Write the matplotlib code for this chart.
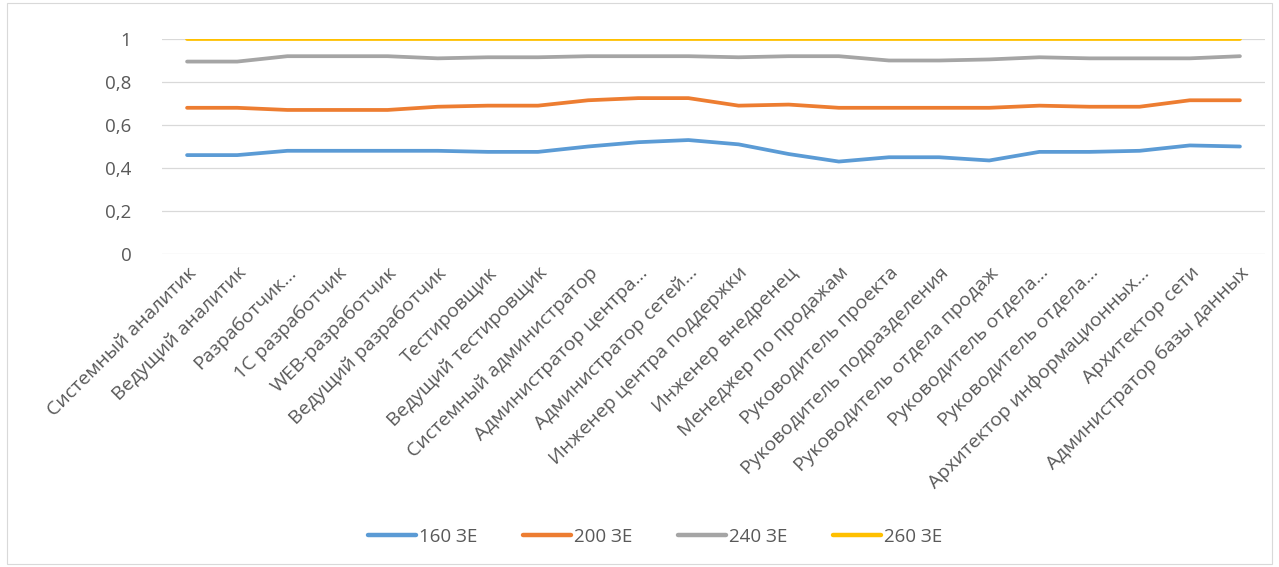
import numpy as np
import matplotlib.pyplot as plt
from matplotlib.patches import Rectangle

plt.rcParams['font.family'] = ['Open Sans', 'DejaVu Sans']

jobs = ["Системный аналитик", "Ведущий аналитик", "Разработчик...",
        "1С разработчик", "WEB-разработчик", "Ведущий разработчик",
        "Тестировщик", "Ведущий тестировщик", "Системный администратор",
        "Администратор центра...", "Администратор сетей...",
        "Инженер центра поддержки", "Инженер внедренец",
        "Менеджер по продажам", "Руководитель проекта",
        "Руководитель подразделения", "Руководитель отдела продаж",
        "Руководитель отдела...", "Руководитель отдела...",
        "Архитектор информационных...", "Архитектор сети",
        "Администратор базы данных"]

ze160 = [0.46, 0.46, 0.48, 0.48, 0.48, 0.48, 0.475, 0.475, 0.50, 0.52, 0.53,
         0.51, 0.465, 0.43, 0.45, 0.45, 0.435, 0.475, 0.475, 0.48, 0.505, 0.50]
ze200 = [0.68, 0.68, 0.67, 0.67, 0.67, 0.685, 0.69, 0.69, 0.715, 0.725, 0.725,
         0.69, 0.695, 0.68, 0.68, 0.68, 0.68, 0.69, 0.685, 0.685, 0.715, 0.715]
ze240 = [0.895, 0.895, 0.92, 0.92, 0.92, 0.91, 0.915, 0.915, 0.92, 0.92, 0.92,
         0.915, 0.92, 0.92, 0.90, 0.90, 0.905, 0.915, 0.91, 0.91, 0.91, 0.92]
ze260 = [1.0] * 22

series = [("160 ЗЕ", ze160, "#5B9BD5"),
          ("200 ЗЕ", ze200, "#ED7D31"),
          ("240 ЗЕ", ze240, "#A5A5A5"),
          ("260 ЗЕ", ze260, "#FFC000")]

fig = plt.figure(figsize=(12.79, 5.67), dpi=100)
ax = fig.add_axes([162 / 1279, 1 - 254 / 567, (1265 - 162) / 1279, (254 - 39) / 567])

x = np.arange(len(jobs))
for name, vals, col in series:
    ax.plot(x, vals, color=col, lw=2.7, label=name, solid_capstyle="round")

ax.set_xlim(-0.5, len(jobs) - 0.5)
ax.set_ylim(0, 1)
ax.set_yticks([0, 0.2, 0.4, 0.6, 0.8, 1.0])
ax.set_yticklabels(["0", "0,2", "0,4", "0,6", "0,8", "1"])
ax.grid(axis="y", color="#d9d9d9", lw=0.9)
ax.set_axisbelow(True)
for s in ax.spines.values():
    s.set_visible(False)
ax.tick_params(axis="both", length=0, colors="#595959")
ax.tick_params(axis="y", labelsize=13.5, pad=22)
ax.set_xticks(x)
ax.set_xticklabels(jobs, rotation=45, ha="right", va="top",
                   rotation_mode="anchor", fontsize=14, color="#595959")
ax.tick_params(axis="x", pad=7)

leg = fig.legend(loc="center", bbox_to_anchor=(655 / 1279, 1 - 537 / 567),
                 ncol=4, frameon=False, fontsize=13.5, handlelength=2.6,
                 columnspacing=2.4, handletextpad=0.15)
for t in leg.get_texts():
    t.set_color("#595959")
for h in leg.get_lines():
    h.set_linewidth(3.2)

fig.patches.append(Rectangle((7 / 1279, 0.005), 1 - 14 / 1279, 0.99,
                             transform=fig.transFigure, fill=False,
                             edgecolor="#d9d9d9", lw=0.8))

fig.savefig("out.png", dpi=100)
